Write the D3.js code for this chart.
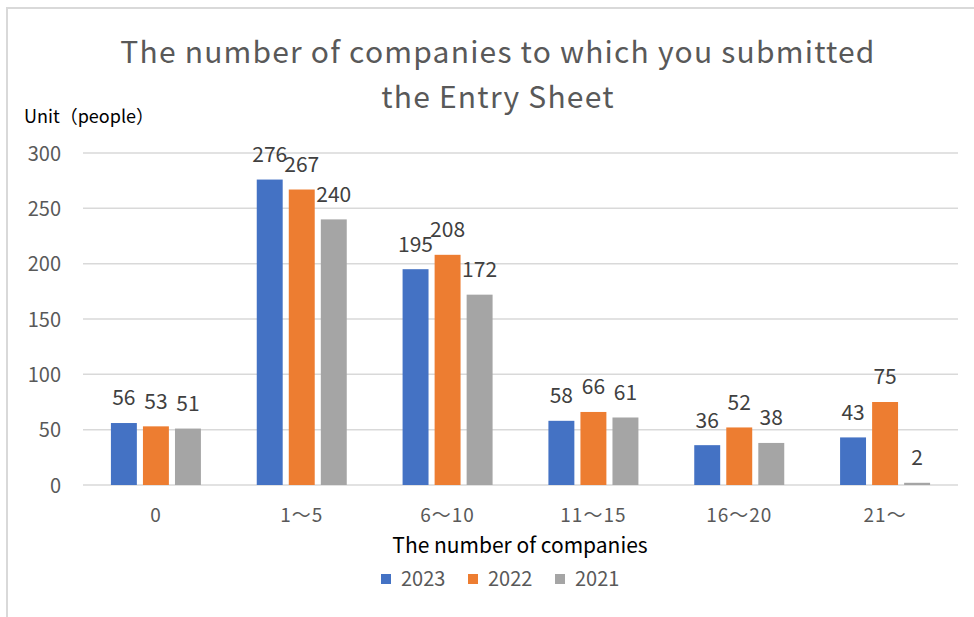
<!DOCTYPE html>
<html>
<head>
<meta charset="utf-8">
<script src="https://cdn.jsdelivr.net/npm/d3@7"></script>
<style>
  body { margin: 0; background: #fff; }
  svg text { font-family: "Noto Sans CJK JP", "Noto Sans", sans-serif; }
</style>
</head>
<body>
<div id="chart"></div>
<script>
const categories = ['0', '1～5', '6～10', '11～15', '16～20', '21～'];
const years = ['2023', '2022', '2021'];
const values2023 = [56, 276, 195, 58, 36, 43];
const values2022 = [53, 267, 208, 66, 52, 75];
const values2021 = [51, 240, 172, 61, 38, 2];
const yTicks = [0, 50, 100, 150, 200, 250, 300];
const colors = ['#4472c4', '#ed7d31', '#a5a5a5'];

const series = [values2023, values2022, values2021];

const width = 974;
const height = 617;
const plot = { left: 83, right: 958, top: 153, bottom: 485 };

const svg = d3.select('#chart')
    .append('svg')
    .attr('width', width)
    .attr('height', height);

// chart frame
svg.append('rect')
    .attr('x', 7)
    .attr('y', 8)
    .attr('width', width + 10)
    .attr('height', height + 10)
    .attr('fill', '#fff')
    .attr('stroke', '#d9d9d9')
    .attr('stroke-width', 2);

const x0 = d3.scaleBand()
    .domain(categories)
    .range([plot.left, plot.right]);

const x1 = d3.scaleBand()
    .domain(years)
    .range([x0.bandwidth() / 2 - 45, x0.bandwidth() / 2 + 45])
    .paddingInner(0.19);

const y = d3.scaleLinear()
    .domain([0, 300])
    .range([plot.bottom, plot.top]);

// gridlines
svg.selectAll('.grid')
    .data(yTicks)
    .enter()
    .append('line')
    .attr('class', 'grid')
    .attr('x1', plot.left)
    .attr('x2', plot.right)
    .attr('y1', d => y(d))
    .attr('y2', d => y(d))
    .attr('stroke', '#d9d9d9')
    .attr('stroke-width', 1.5);

// y axis labels
const yAxis = d3.axisLeft(y).tickValues(yTicks).tickSize(0).tickPadding(0);
const gy = svg.append('g')
    .attr('transform', 'translate(61,0)')
    .call(yAxis);
gy.select('.domain').remove();
gy.selectAll('text')
    .attr('dy', '0.35em')
    .style('font-size', '20px')
    .style('fill', '#595959');

// x axis labels
const xAxis = d3.axisBottom(x0).tickSize(0).tickPadding(0);
const gx = svg.append('g')
    .attr('transform', `translate(0,${plot.bottom + 21})`)
    .call(xAxis);
gx.select('.domain').remove();
gx.selectAll('text')
    .attr('dy', '0.85em')
    .style('font-size', '19px')
    .style('letter-spacing', '1px')
    .style('fill', '#595959');

// bars
const groups = svg.selectAll('.group')
    .data(categories)
    .enter()
    .append('g')
    .attr('class', 'group')
    .attr('transform', d => `translate(${x0(d)},0)`);

groups.each(function (cat, ci) {
    const g = d3.select(this);
    years.forEach((yr, si) => {
        const v = series[si][ci];
        g.append('rect')
            .attr('x', x1(yr))
            .attr('y', y(v))
            .attr('width', x1.bandwidth())
            .attr('height', y(0) - y(v))
            .attr('fill', colors[si]);
        g.append('text')
            .attr('x', x1(yr) + x1.bandwidth() / 2)
            .attr('y', y(v) - 25)
            .attr('dy', '0.35em')
            .attr('text-anchor', 'middle')
            .style('font-size', '21px')
            .style('fill', '#404040')
            .text(v);
    });
});

// title
const titleLines = ['The number of companies to which you submitted', 'the Entry Sheet'];
svg.selectAll('.title')
    .data(titleLines)
    .enter()
    .append('text')
    .attr('class', 'title')
    .attr('x', 498)
    .attr('y', (d, i) => 52 + i * 45)
    .attr('dy', '0.35em')
    .attr('text-anchor', 'middle')
    .style('font-size', '30px')
    .style('letter-spacing', '1.2px')
    .style('fill', '#595959')
    .text(d => d);

// unit label
svg.append('text')
    .attr('x', 24)
    .attr('y', 117)
    .attr('dy', '0.35em')
    .style('font-size', '18px')
    .style('fill', '#000')
    .text('Unit（people）');

// x axis title
svg.append('text')
    .attr('x', 520)
    .attr('y', 546)
    .attr('dy', '0.35em')
    .attr('text-anchor', 'middle')
    .style('font-size', '21px')
    .style('fill', '#000')
    .text('The number of companies');

// legend
const legendX = [381, 468, 555];
const legend = svg.selectAll('.legend')
    .data(years)
    .enter()
    .append('g')
    .attr('class', 'legend')
    .attr('transform', (d, i) => `translate(${legendX[i]},579)`);
legend.append('rect')
    .attr('x', 0)
    .attr('y', -5)
    .attr('width', 10)
    .attr('height', 10)
    .attr('fill', (d, i) => colors[i]);
legend.append('text')
    .attr('x', 20)
    .attr('y', 0)
    .attr('dy', '0.35em')
    .style('font-size', '20px')
    .style('fill', '#595959')
    .text(d => d);
</script>
</body>
</html>
